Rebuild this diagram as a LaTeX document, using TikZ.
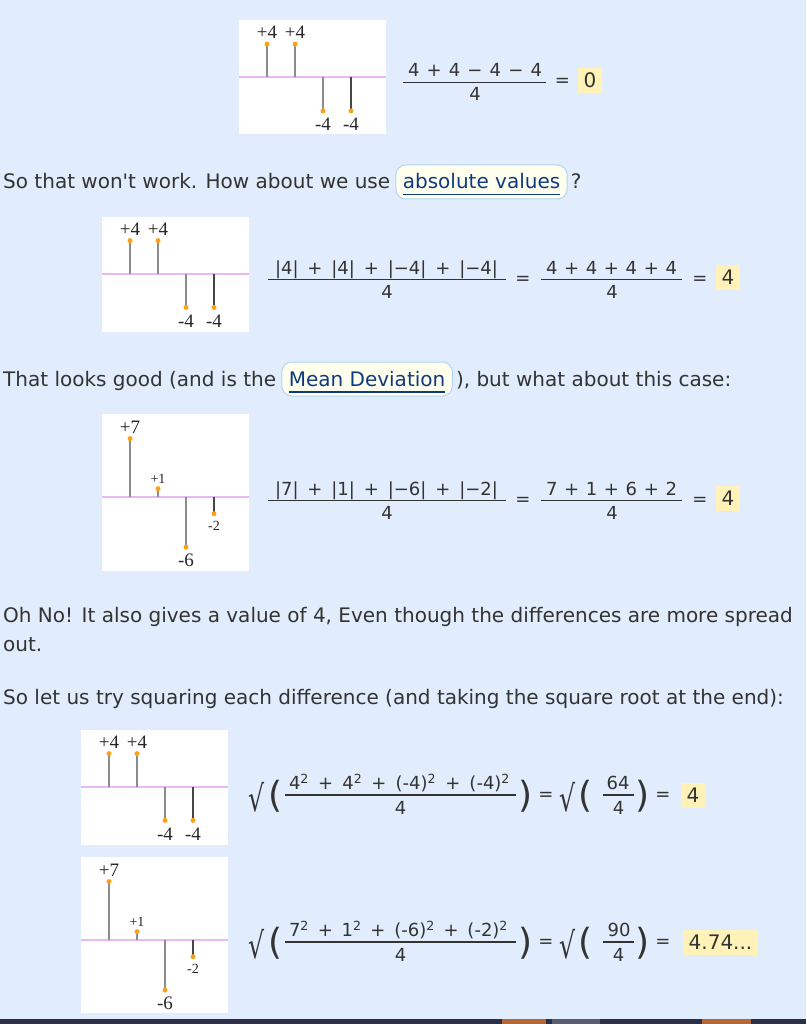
\documentclass[tikz,border=0pt]{standalone}
\usepackage{fontspec}
\setmainfont{DejaVu Sans}[Ligatures=TeXOff]
\newfontfamily\lblfont{Liberation Serif}
\usetikzlibrary{positioning}

\definecolor{pagebg}{RGB}{225,237,252}
\definecolor{bodytext}{RGB}{51,51,51}
\definecolor{linkblue}{RGB}{16,58,128}
\definecolor{pillfill}{RGB}{255,255,238}
\definecolor{pillline}{RGB}{180,212,245}
\definecolor{axisviolet}{RGB}{232,185,245}
\definecolor{stemgray}{RGB}{140,140,140}
\definecolor{stemdark}{RGB}{70,70,70}
\definecolor{dotorange}{RGB}{255,160,20}
\definecolor{hilite}{RGB}{255,242,184}
\definecolor{barnavy}{RGB}{45,47,70}
\definecolor{barorange}{RGB}{180,104,58}
\definecolor{bargray}{RGB}{90,92,112}

\newcommand{\spread}[2]{\makebox[#1pt][s]{#2}}
\newcommand{\sqr}{\textsuperscript{2}}
\newcommand{\lblsmall}{\fontsize{14}{14}\selectfont}
\newcommand{\linkline}[1]{\sbox0{#1}\rlap{\rule[-6.5pt]{\wd0}{1.8pt}}#1}
\newcommand{\rootsign}{\scalebox{0.7}[1]{√}}

\tikzset{
  para/.style={anchor=base west, inner sep=0pt, text=bodytext, font=\fontsize{20}{24}\selectfont},
  pill/.style={draw=pillline, fill=pillfill, line width=1pt, rounded corners=10pt,
    inner xsep=7pt, inner ysep=0pt, text height=16pt, text depth=2pt, minimum height=34pt,
    text=linkblue, font=\fontsize{20}{24}\selectfont},
  chartbg/.style={fill=white},
  axisline/.style={draw=axisviolet, line width=2pt},
  stem/.style={draw=stemgray, line width=1.8pt},
  stemlast/.style={draw=stemdark, line width=1.5pt},
  stemlbl/.style={inner sep=0pt, text=black!85, font=\lblfont\fontsize{19}{19}\selectfont},
  eqtext/.style={anchor=base, inner sep=0pt, text=bodytext, font=\fontsize{18}{20}\selectfont},
  eqsign/.style={anchor=base, inner sep=0pt, text=bodytext, font=\fontsize{18}{20}\selectfont},
  bigglyph/.style={inner sep=0pt, text=bodytext, font=\fontsize{36}{36}\selectfont},
  fracbar/.style={draw=bodytext, line width=1.2pt},
  hilite/.style={fill=hilite, inner xsep=6pt, inner ysep=0pt, text height=14.6pt, text depth=0pt,
    minimum height=25pt, text=bodytext, font=\fontsize{20}{24}\selectfont}
}

\begin{document}
\begin{tikzpicture}[x=1pt,y=-1pt]
  \useasboundingbox (0,0) rectangle (806,1024);
  \fill[pagebg] (0,0) rectangle (806,1024);

  % chart 1
  \begin{scope}[shift={(239,77.5)}]
    \fill[chartbg] (0,-57.5) rectangle (147,56.5);
    \draw[axisline] (0,0) -- (147,0);
    \foreach \v/\lab/\s [count=\i] in {4/+4/stem,4/+4/stem,-4/-4/stem,-4/-4/stemlast}{
      \draw[\s] (28*\i,0) -- (28*\i,-8.35*\v);
      \fill[dotorange] (28*\i,-8.35*\v) circle (2.5);
      \ifdim \v pt>0pt
        \node[stemlbl,anchor=south] (c1l\i) at (28*\i,-8.35*\v-5) {\lab};
      \else
        \node[stemlbl,anchor=north] (c1l\i) at (28*\i,-8.35*\v+7) {\lab};
      \fi
    }
  \end{scope}
  \node[eqtext] (e1num) at (475,76.8) {\spread{134}{4 + 4 − 4 − 4}};
  \coordinate (e1barL) at (403,82.3);
  \coordinate (e1barR) at (546,82.3);
  \draw[fracbar] (e1barL) -- (e1barR);
  \node[eqtext] (e1den) at (475,101) {4};
  \node[eqsign] (e1eq) at (562.5,87) {=};
  \node[hilite] (e1res) at (590,80.5) {0};

  \node[para] (lineA) at (3,189) {So that won't work. How about we use};
  \node[pill, right=5pt of lineA.base east, anchor=base west] (absval) {\linkline{absolute values}};
  \node[para, right=3pt of absval.base east, anchor=base west] (lineAq) {?};

  % chart 2
  \begin{scope}[shift={(102,274)}]
    \fill[chartbg] (0,-57) rectangle (147,58);
    \draw[axisline] (0,0) -- (147,0);
    \foreach \v/\lab/\s [count=\i] in {4/+4/stem,4/+4/stem,-4/-4/stem,-4/-4/stemlast}{
      \draw[\s] (28*\i,0) -- (28*\i,-8.35*\v);
      \fill[dotorange] (28*\i,-8.35*\v) circle (2.5);
      \ifdim \v pt>0pt
        \node[stemlbl,anchor=south] (c2l\i) at (28*\i,-8.35*\v-5) {\lab};
      \else
        \node[stemlbl,anchor=north] (c2l\i) at (28*\i,-8.35*\v+7) {\lab};
      \fi
    }
  \end{scope}
  \node[eqtext] (e2num) at (386.5,274) {\spread{223}{|4| + |4| + |−4| + |−4|}};
  \coordinate (e2barL) at (268,279.5);
  \coordinate (e2barR) at (506,279.5);
  \draw[fracbar] (e2barL) -- (e2barR);
  \node[eqtext] (e2den) at (387,298.5) {4};
  \node[eqsign] (e2eqA) at (523,284) {=};
  \node[eqtext] (e2sum) at (611.5,274) {\spread{131}{4 + 4 + 4 + 4}};
  \coordinate (e2sumL) at (541,279.5);
  \coordinate (e2sumR) at (682,279.5);
  \draw[fracbar] (e2sumL) -- (e2sumR);
  \node[eqtext] (e2sden) at (612,298.5) {4};
  \node[eqsign] (e2eqB) at (700,284) {=};
  \node[hilite] (e2res) at (728,277.5) {4};

  \node[para] (lineB) at (3,386) {That looks good (and is the};
  \node[pill, right=5pt of lineB.base east, anchor=base west] (meandev) {\linkline{Mean Deviation}};
  \node[para, right=3pt of meandev.base east, anchor=base west] (lineBb) {), but what about this case:};

  % chart 3
  \begin{scope}[shift={(102,497)}]
    \fill[chartbg] (0,-83) rectangle (147,74);
    \draw[axisline] (0,0) -- (147,0);
    \foreach \v/\lab/\s [count=\i] in {7/+7/stem,1/{\lblsmall +1}/stem,-6/-6/stem,-2/{\lblsmall -2}/stemlast}{
      \draw[\s] (28*\i,0) -- (28*\i,-8.35*\v);
      \fill[dotorange] (28*\i,-8.35*\v) circle (2.5);
      \ifdim \v pt>0pt
        \node[stemlbl,anchor=south] (c3l\i) at (28*\i,-8.35*\v-5) {\lab};
      \else
        \node[stemlbl,anchor=north] (c3l\i) at (28*\i,-8.35*\v+7) {\lab};
      \fi
    }
  \end{scope}
  \node[eqtext] (e3num) at (386.5,495) {\spread{223}{|7| + |1| + |−6| + |−2|}};
  \coordinate (e3barL) at (268,500.5);
  \coordinate (e3barR) at (506,500.5);
  \draw[fracbar] (e3barL) -- (e3barR);
  \node[eqtext] (e3den) at (387,519.5) {4};
  \node[eqsign] (e3eqA) at (523,505) {=};
  \node[eqtext] (e3sum) at (611.5,495) {\spread{131}{7 + 1 + 6 + 2}};
  \coordinate (e3sumL) at (541,500.5);
  \coordinate (e3sumR) at (682,500.5);
  \draw[fracbar] (e3sumL) -- (e3sumR);
  \node[eqtext] (e3sden) at (612,519.5) {4};
  \node[eqsign] (e3eqB) at (700,505) {=};
  \node[hilite] (e3res) at (728,498.5) {4};

  \node[para] (lineC) at (3,622) {Oh No! It also gives a value of 4, Even though the differences are more spread};
  \node[para] (lineCb) at (3,651) {out.};
  \node[para] (lineD) at (3,704) {So let us try squaring each difference (and taking the square root at the end):};

  % chart 4
  \begin{scope}[shift={(81,787)}]
    \fill[chartbg] (0,-57) rectangle (147,58);
    \draw[axisline] (0,0) -- (147,0);
    \foreach \v/\lab/\s [count=\i] in {4/+4/stem,4/+4/stem,-4/-4/stem,-4/-4/stemlast}{
      \draw[\s] (28*\i,0) -- (28*\i,-8.35*\v);
      \fill[dotorange] (28*\i,-8.35*\v) circle (2.5);
      \ifdim \v pt>0pt
        \node[stemlbl,anchor=south] (c4l\i) at (28*\i,-8.35*\v-5) {\lab};
      \else
        \node[stemlbl,anchor=north] (c4l\i) at (28*\i,-8.35*\v+7) {\lab};
      \fi
    }
  \end{scope}
  \node[bigglyph] (e4rtA) at (257,797) {\rootsign};
  \node[bigglyph] (e4opA) at (276,796) {(};
  \node[eqtext] (e4num) at (399.5,789.5) {\spread{221}{4\sqr{} + 4\sqr{} + (-4)\sqr{} + (-4)\sqr{}}};
  \coordinate (e4barL) at (285,795);
  \coordinate (e4barR) at (516,795);
  \draw[fracbar] (e4barL) -- (e4barR);
  \node[eqtext] (e4den) at (400.5,814) {4};
  \node[bigglyph] (e4clA) at (525.5,796) {)};
  \node[eqsign] (e4eqA) at (546,800) {=};
  \node[bigglyph] (e4rtB) at (568,797) {\rootsign};
  \node[bigglyph] (e4opB) at (586,796) {(};
  \node[eqtext] (e4num2) at (618,789.5) {64};
  \coordinate (e4bar2L) at (603,795);
  \coordinate (e4bar2R) at (634,795);
  \draw[fracbar] (e4bar2L) -- (e4bar2R);
  \node[eqtext] (e4den2) at (618.5,814) {4};
  \node[bigglyph] (e4clB) at (643,796) {)};
  \node[eqsign] (e4eqB) at (663,800) {=};
  \node[hilite] (e4res) at (693,795) {4};

  % chart 5
  \begin{scope}[shift={(81,940)}]
    \fill[chartbg] (0,-83) rectangle (147,73);
    \draw[axisline] (0,0) -- (147,0);
    \foreach \v/\lab/\s [count=\i] in {7/+7/stem,1/{\lblsmall +1}/stem,-6/-6/stem,-2/{\lblsmall -2}/stemlast}{
      \draw[\s] (28*\i,0) -- (28*\i,-8.35*\v);
      \fill[dotorange] (28*\i,-8.35*\v) circle (2.5);
      \ifdim \v pt>0pt
        \node[stemlbl,anchor=south] (c5l\i) at (28*\i,-8.35*\v-5) {\lab};
      \else
        \node[stemlbl,anchor=north] (c5l\i) at (28*\i,-8.35*\v+7) {\lab};
      \fi
    }
  \end{scope}
  \node[bigglyph] (e5rtA) at (257,944) {\rootsign};
  \node[bigglyph] (e5opA) at (276,943) {(};
  \node[eqtext] (e5num) at (398.5,936.5) {\spread{219}{7\sqr{} + 1\sqr{} + (-6)\sqr{} + (-2)\sqr{}}};
  \coordinate (e5barL) at (285,942);
  \coordinate (e5barR) at (516,942);
  \draw[fracbar] (e5barL) -- (e5barR);
  \node[eqtext] (e5den) at (400.5,961) {4};
  \node[bigglyph] (e5clA) at (525.5,943) {)};
  \node[eqsign] (e5eqA) at (546,947) {=};
  \node[bigglyph] (e5rtB) at (568,944) {\rootsign};
  \node[bigglyph] (e5opB) at (586,943) {(};
  \node[eqtext] (e5num2) at (619,936.5) {90};
  \coordinate (e5bar2L) at (603,942);
  \coordinate (e5bar2R) at (634,942);
  \draw[fracbar] (e5bar2L) -- (e5bar2R);
  \node[eqtext] (e5den2) at (618.5,961) {4};
  \node[bigglyph] (e5clB) at (643,943) {)};
  \node[eqsign] (e5eqB) at (663,947) {=};
  \node[hilite] (e5res) at (720.5,942) {4.74...};

  % page strip at the bottom
  \fill[barnavy] (0,1019) rectangle (806,1024);
  \fill[barorange] (502,1019) rectangle (546,1024);
  \fill[bargray] (552,1019) rectangle (600,1024);
  \fill[barorange] (702,1019) rectangle (751,1024);
\end{tikzpicture}
\end{document}
